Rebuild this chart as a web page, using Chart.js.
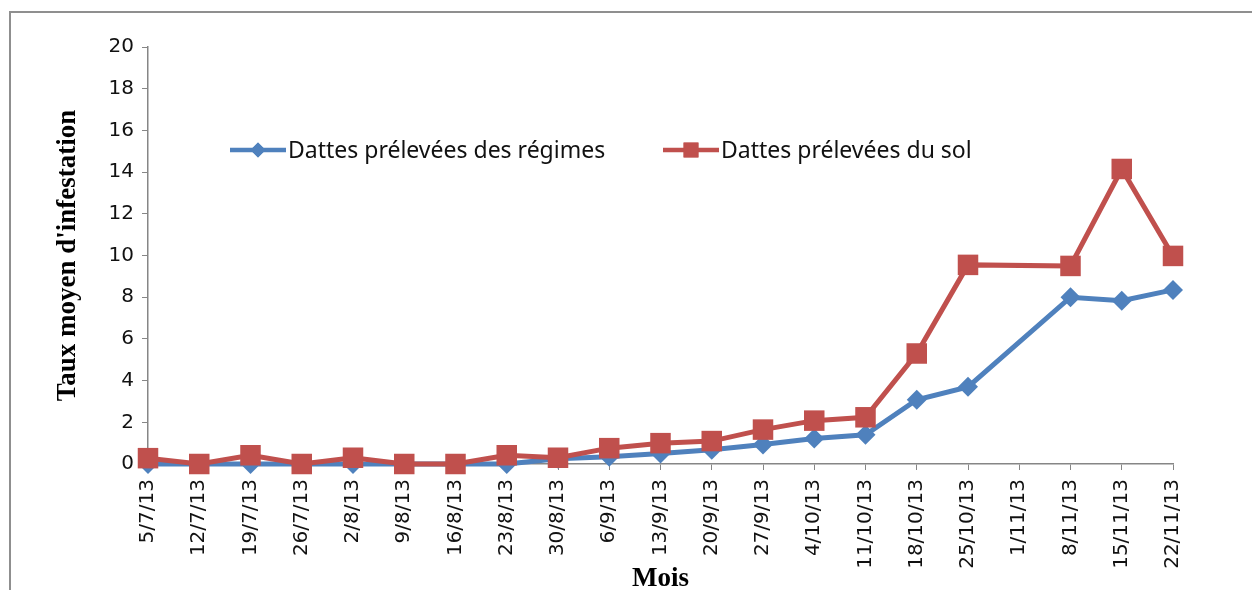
<!DOCTYPE html>
<html>
<head>
<meta charset="utf-8">
<script src="https://cdn.jsdelivr.net/npm/chart.js@4"></script>
<style>
  html, body { margin: 0; padding: 0; background: #fff; }
  #frame {
    position: absolute; left: 9px; top: 11px; width: 1300px; height: 700px;
    border-left: 2px solid #8f8f8f; border-top: 2px solid #8f8f8f;
  }
  #wrap { position: absolute; left: 0; top: 0; width: 1252px; height: 590px; }
</style>
</head>
<body>
<div id="frame"></div>
<div id="wrap"><canvas id="chart"></canvas></div>
<script>
const labels = [
    '5/7/13', '12/7/13', '19/7/13', '26/7/13', '2/8/13', '9/8/13', '16/8/13',
    '23/8/13', '30/8/13', '6/9/13', '13/9/13', '20/9/13', '27/9/13', '4/10/13',
    '11/10/13', '18/10/13', '25/10/13', '1/11/13', '8/11/13', '15/11/13', '22/11/13',
];

// 1/11/13 has no sample, the line just spans over it
const regimes = [0, 0, 0, 0, 0, 0, 0, 0, 0.25, 0.35, 0.5, 0.68, 0.93, 1.22, 1.4, 3.08, 3.7, null, 8.0, 7.83, 8.35];
const sol = [0.28, 0, 0.42, 0, 0.3, 0, 0, 0.42, 0.3, 0.76, 1.0, 1.1, 1.65, 2.08, 2.24, 5.3, 9.55, null, 9.5, 14.15, 9.98];

const yTicks = [0, 2, 4, 6, 8, 10, 12, 14, 16, 18, 20];

const blue = '#4f81bd';
const red = '#c0504d';
const axisGrey = '#868686';
const tickFont = { family: 'DejaVu Sans', size: 20 };

// legend sits inside the plot, like the original
const insideLegend = {
    id: 'insideLegend',
    afterDraw(chart) {
        const ctx = chart.ctx;
        const y = 150;
        const items = [
            { x: 230, ds: chart.data.datasets[0] },
            { x: 663, ds: chart.data.datasets[1] },
        ];
        ctx.save();
        items.forEach(it => {
            ctx.strokeStyle = it.ds.borderColor;
            ctx.lineWidth = 4.5;
            ctx.beginPath();
            ctx.moveTo(it.x, y);
            ctx.lineTo(it.x + 56, y);
            ctx.stroke();
            ctx.fillStyle = it.ds.backgroundColor;
            Chart.helpers.drawPoint(ctx, {
                pointStyle: it.ds.pointStyle,
                radius: it.ds.pointStyle === 'rect' ? 10.5 : 7.5,
                borderWidth: 0,
            }, it.x + 28, y);
            ctx.fill();
            ctx.fillStyle = '#111';
            ctx.font = '23px "Noto Sans"';
            ctx.textBaseline = 'middle';
            ctx.textAlign = 'left';
            ctx.fillText(it.ds.label, it.x + 58, y + 1);
        });
        ctx.restore();
    }
};

new Chart(document.getElementById('chart'), {
    type: 'line',
    data: {
        labels: labels,
        datasets: [{
            label: 'Dattes prélevées des régimes',
            data: regimes,
            borderColor: blue,
            backgroundColor: blue,
            borderWidth: 5,
            pointStyle: 'rectRot',
            pointRadius: 10,
            pointBorderWidth: 0,
            spanGaps: true,
            clip: false,
            order: 1,
        }, {
            label: 'Dattes prélevées du sol',
            data: sol,
            borderColor: red,
            backgroundColor: red,
            borderWidth: 5,
            pointStyle: 'rect',
            pointRadius: 14.5,
            pointBorderWidth: 0,
            spanGaps: true,
            clip: false,
            order: 0,
        }]
    },
    options: {
        responsive: true,
        maintainAspectRatio: false,
        animation: false,
        layout: { padding: { left: 52, top: 47, right: 79, bottom: 0 } },
        plugins: {
            legend: { display: false },
            tooltip: { enabled: false },
        },
        scales: {
            x: {
                ticks: {
                    font: tickFont, color: '#111',
                    minRotation: 90, maxRotation: 90,
                    autoSkip: false, padding: 9,
                },
                grid: {
                    drawOnChartArea: false, drawTicks: true,
                    tickLength: 6, color: axisGrey,
                },
                border: { color: axisGrey, width: 1.5 },
                title: {
                    display: true, text: 'Mois',
                    font: { family: 'Liberation Serif', size: 27, weight: 'bold' },
                    color: '#000', padding: { top: 0, bottom: -5 },
                },
                afterFit(scale) { scale.height = 126; },
            },
            y: {
                min: 0, max: 20,
                afterBuildTicks(scale) { scale.ticks = yTicks.map(v => ({ value: v })); },
                ticks: { font: tickFont, color: '#111', padding: 8 },
                grid: {
                    drawOnChartArea: false, drawTicks: true,
                    tickLength: 6, color: axisGrey,
                },
                border: { color: axisGrey, width: 1.5 },
                title: {
                    display: true, text: "Taux moyen d'infestation",
                    font: { family: 'Liberation Serif', size: 27, weight: 'bold' },
                    color: '#000', padding: { top: 0, bottom: 0 },
                },
                afterFit(scale) { scale.width = 96; },
            },
        },
    },
    plugins: [insideLegend],
});
</script>
</body>
</html>
